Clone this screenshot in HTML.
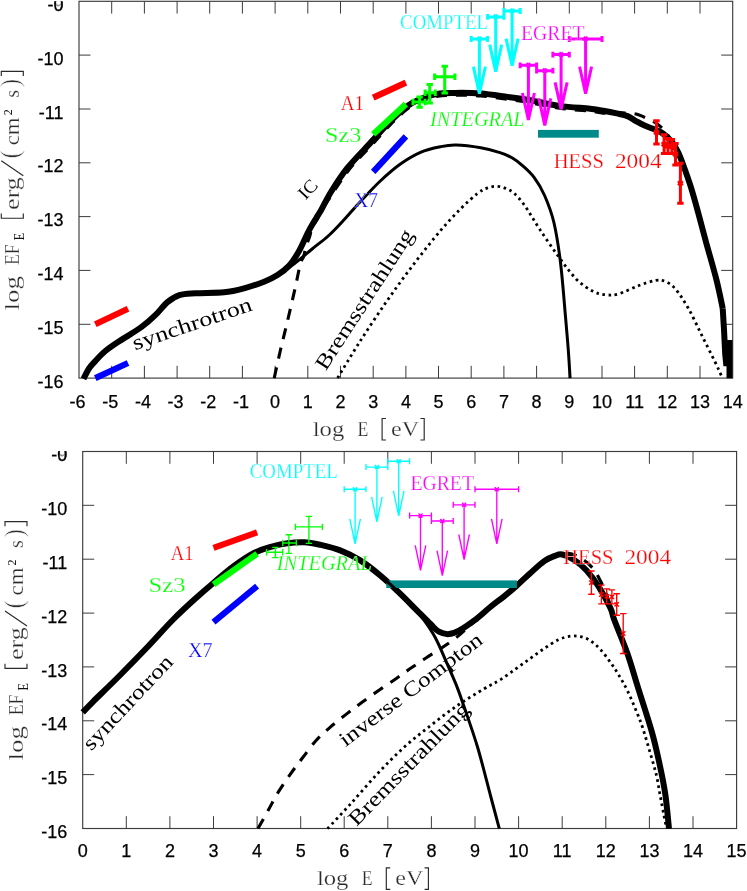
<!DOCTYPE html>
<html><head><meta charset="utf-8"><title>SED</title>
<style>
html,body{margin:0;padding:0;background:#fff;}
body{width:747px;height:891px;overflow:hidden;}
svg{display:block;will-change:transform;}
.tk{font-family:"Liberation Sans",sans-serif;font-size:18px;fill:#000;stroke:#000;stroke-width:0.25px;}
.sf{font-family:"Liberation Serif",serif;}
</style></head><body>
<svg width="747" height="891" viewBox="0 0 747 891">
<defs><clipPath id="c1"><rect x="0" y="1.3" width="78" height="30"/></clipPath><clipPath id="c2"><rect x="0" y="451.1" width="82" height="30"/></clipPath></defs>
<rect width="747" height="891" fill="#fff"/>
<rect x="79.0" y="1.3" width="653.7" height="376.8" fill="none" stroke="#3c3c3c" stroke-width="1.15"/>
<path d="M111.7,378.1v-12.3 M111.7,1.3v12.3 M144.4,378.1v-12.3 M144.4,1.3v12.3 M177.1,378.1v-12.3 M177.1,1.3v12.3 M209.7,378.1v-12.3 M209.7,1.3v12.3 M242.4,378.1v-12.3 M242.4,1.3v12.3 M275.1,378.1v-12.3 M275.1,1.3v12.3 M307.8,378.1v-12.3 M307.8,1.3v12.3 M340.5,378.1v-12.3 M340.5,1.3v12.3 M373.2,378.1v-12.3 M373.2,1.3v12.3 M405.9,378.1v-12.3 M405.9,1.3v12.3 M438.5,378.1v-12.3 M438.5,1.3v12.3 M471.2,378.1v-12.3 M471.2,1.3v12.3 M503.9,378.1v-12.3 M503.9,1.3v12.3 M536.6,378.1v-12.3 M536.6,1.3v12.3 M569.3,378.1v-12.3 M569.3,1.3v12.3 M602.0,378.1v-12.3 M602.0,1.3v12.3 M634.6,378.1v-12.3 M634.6,1.3v12.3 M667.3,378.1v-12.3 M667.3,1.3v12.3 M700.0,378.1v-12.3 M700.0,1.3v12.3 M79.0,324.3h11.5 M732.7,324.3h-11.5 M79.0,270.4h11.5 M732.7,270.4h-11.5 M79.0,216.6h11.5 M732.7,216.6h-11.5 M79.0,162.8h11.5 M732.7,162.8h-11.5 M79.0,109.0h11.5 M732.7,109.0h-11.5 M79.0,55.1h11.5 M732.7,55.1h-11.5 " stroke="#3c3c3c" stroke-width="1" fill="none"/>
<text class="tk" x="77.5" y="407.5" text-anchor="middle">-6</text>
<text class="tk" x="110.2" y="407.5" text-anchor="middle">-5</text>
<text class="tk" x="142.9" y="407.5" text-anchor="middle">-4</text>
<text class="tk" x="175.6" y="407.5" text-anchor="middle">-3</text>
<text class="tk" x="208.2" y="407.5" text-anchor="middle">-2</text>
<text class="tk" x="240.9" y="407.5" text-anchor="middle">-1</text>
<text class="tk" x="275.1" y="407.5" text-anchor="middle">0</text>
<text class="tk" x="307.8" y="407.5" text-anchor="middle">1</text>
<text class="tk" x="340.5" y="407.5" text-anchor="middle">2</text>
<text class="tk" x="373.2" y="407.5" text-anchor="middle">3</text>
<text class="tk" x="405.9" y="407.5" text-anchor="middle">4</text>
<text class="tk" x="438.5" y="407.5" text-anchor="middle">5</text>
<text class="tk" x="471.2" y="407.5" text-anchor="middle">6</text>
<text class="tk" x="503.9" y="407.5" text-anchor="middle">7</text>
<text class="tk" x="536.6" y="407.5" text-anchor="middle">8</text>
<text class="tk" x="569.3" y="407.5" text-anchor="middle">9</text>
<text class="tk" x="602.0" y="407.5" text-anchor="middle">10</text>
<text class="tk" x="634.6" y="407.5" text-anchor="middle">11</text>
<text class="tk" x="667.3" y="407.5" text-anchor="middle">12</text>
<text class="tk" x="700.0" y="407.5" text-anchor="middle">13</text>
<text class="tk" x="732.7" y="407.5" text-anchor="middle">14</text>
<text class="tk" x="63.5" y="387.7" text-anchor="end">-16</text>
<text class="tk" x="63.5" y="333.9" text-anchor="end">-15</text>
<text class="tk" x="63.5" y="280.0" text-anchor="end">-14</text>
<text class="tk" x="63.5" y="226.2" text-anchor="end">-13</text>
<text class="tk" x="63.5" y="172.4" text-anchor="end">-12</text>
<text class="tk" x="63.5" y="118.6" text-anchor="end">-11</text>
<text class="tk" x="63.5" y="64.7" text-anchor="end">-10</text>
<g clip-path="url(#c1)"><text class="tk" x="63.5" y="10.9" text-anchor="end">-0</text><text class="tk" x="63.5" y="10.9" text-anchor="end" opacity="0.45">9</text></g>
<path d="M274.2,378.1 C275.2,373.8 278.1,360.4 280.0,352.0 C281.9,343.6 283.4,338.3 285.9,327.8 C288.4,317.3 292.5,299.9 294.9,289.2 C297.3,278.5 298.9,269.4 300.3,263.9 C301.8,258.4 302.6,259.4 303.6,256.4 C304.6,253.4 305.2,248.9 306.2,245.7 C307.2,242.5 308.5,240.1 309.5,237.1 C310.5,234.1 310.8,230.5 312.1,227.5 C313.4,224.5 316.1,221.6 317.5,218.9 C318.9,216.2 319.1,214.2 320.7,211.4 C322.3,208.6 322.4,208.7 327.1,201.8 C331.8,194.9 341.6,179.2 349.0,169.8 C356.3,160.5 366.4,150.9 371.1,145.7 C375.8,140.6 374.2,142.2 377.3,138.9 C380.3,135.6 385.3,130.0 389.2,125.9 C393.2,121.8 397.8,117.3 401.1,114.3 C404.4,111.2 406.0,109.8 409.1,107.7 C412.3,105.6 415.3,103.6 420.1,101.7 C424.9,99.8 431.9,97.3 437.7,96.3 C443.6,95.2 447.9,95.4 455.0,95.3 C462.2,95.2 471.9,95.2 480.6,95.9 C489.3,96.6 499.1,98.2 507.3,99.3 C515.4,100.4 520.9,101.1 529.6,102.6 C538.3,104.1 549.6,106.9 559.7,108.3 C569.7,109.7 582.5,110.3 589.7,111.1 C597.0,111.9 598.3,112.8 603.0,113.1 C607.8,113.3 614.0,112.6 618.0,112.6 C622.0,112.6 624.0,113.0 627.0,113.3 C630.0,113.5 633.0,113.3 636.2,114.1 C639.4,114.9 643.1,116.7 646.2,118.1 C649.3,119.5 652.3,120.8 655.0,122.5 C657.7,124.2 660.1,126.0 662.3,128.2 C664.5,130.4 666.2,132.9 668.0,135.5 C669.8,138.1 673.3,143.4 673.0,143.5 C672.7,143.6 666.3,136.2 666.3,136.2 C666.3,136.2 671.0,140.7 673.0,143.5 C675.0,146.3 676.6,149.1 678.4,152.9 C680.2,156.7 681.6,160.6 683.7,166.3 C685.8,172.0 688.5,179.6 690.9,187.2 C693.3,194.8 695.5,202.9 698.0,212.0 C700.5,221.1 702.9,230.7 706.0,242.0 C709.1,253.3 713.7,268.9 716.5,280.0 C719.3,291.1 721.7,303.7 722.7,308.4" stroke="#000" stroke-width="3.1" fill="none" stroke-dasharray="11 9"/>
<path d="M264.1,281.7 C266.3,280.6 272.5,277.9 277.5,275.0 C282.5,272.1 288.1,268.3 293.9,264.0 C299.7,259.7 306.4,253.7 312.1,249.0 C317.8,244.3 322.8,240.9 328.2,236.0 C333.6,231.1 339.0,225.2 344.3,219.5 C349.6,213.8 354.0,208.4 360.0,202.0 C366.0,195.6 373.6,187.3 380.3,181.0 C387.0,174.7 393.7,168.8 400.4,164.0 C407.1,159.2 413.8,155.2 420.5,152.3 C427.2,149.4 434.7,147.9 440.6,146.7 C446.5,145.5 449.3,144.9 456.0,145.1 C462.7,145.3 473.5,146.6 480.8,147.8 C488.1,149.1 494.8,150.9 500.0,152.6 C505.2,154.3 508.2,155.6 512.0,157.8 C515.8,160.0 518.9,162.4 522.5,165.6 C526.1,168.8 530.2,172.2 533.9,177.2 C537.6,182.2 541.3,187.9 544.6,195.5 C547.9,203.1 551.3,211.5 553.9,222.5 C556.5,233.5 558.4,245.8 560.4,261.7 C562.4,277.6 564.3,303.2 565.6,317.9 C566.9,332.6 567.5,340.0 568.3,350.0 C569.0,360.0 569.8,373.4 570.1,378.1" stroke="#000" stroke-width="3.0" fill="none"/>
<path d="M337.6,378.0 C341.4,371.8 352.1,353.7 360.4,340.8 C368.7,327.9 378.3,313.4 387.2,300.6 C396.1,287.8 405.1,275.5 414.0,263.8 C422.9,252.1 432.9,239.6 440.7,230.4 C448.5,221.2 454.7,214.8 460.8,208.6 C466.9,202.4 473.1,196.9 477.5,193.5 C481.9,190.1 484.2,189.1 487.5,187.9 C490.8,186.7 493.9,186.2 497.0,186.3 C500.1,186.4 503.1,187.3 506.0,188.5 C508.9,189.7 511.1,190.6 514.3,193.5 C517.5,196.4 520.8,200.0 525.0,206.0 C529.2,212.0 534.2,221.0 539.7,229.3 C545.2,237.6 551.8,247.4 557.9,255.7 C564.0,264.0 570.3,273.0 576.1,278.9 C581.9,284.8 587.7,288.5 592.6,291.1 C597.5,293.8 601.4,294.4 605.8,294.8 C610.2,295.2 613.5,295.4 619.0,293.8 C624.5,292.2 632.8,287.7 638.9,285.5 C645.0,283.3 651.0,281.2 655.4,280.5 C659.8,279.8 662.0,280.1 665.3,281.5 C668.6,282.9 671.4,284.3 675.3,288.8 C679.2,293.3 684.1,300.9 688.5,308.6 C692.9,316.3 697.3,326.3 701.7,335.1 C706.1,343.9 711.6,354.8 714.9,361.6 C718.2,368.4 720.4,373.6 721.5,376.0" stroke="#000" stroke-width="2.8" fill="none" stroke-dasharray="2.6 3.6"/>
<path d="M83.5,378.8 C84.4,377.1 87.1,371.4 89.0,368.5 C90.9,365.6 92.4,364.3 95.1,361.4 C97.8,358.5 101.1,354.6 105.1,351.3 C109.1,348.0 113.2,345.3 119.2,341.3 C125.2,337.3 135.3,331.6 141.3,327.2 C147.3,322.8 151.0,319.4 155.3,315.2 C159.7,311.0 163.4,305.5 167.4,302.1 C171.4,298.8 174.7,296.6 179.4,295.1 C184.1,293.6 188.1,293.7 195.5,293.2 C202.9,292.7 215.9,293.1 224.0,292.3 C232.1,291.5 237.3,290.1 244.0,288.3 C250.7,286.5 258.5,283.9 264.1,281.7 C269.7,279.5 273.3,277.7 277.5,275.0 C281.7,272.3 285.6,269.5 289.2,265.6 C292.8,261.7 295.6,257.1 298.8,251.5 C302.0,245.9 305.3,237.5 308.3,231.8 C311.3,226.1 314.5,221.0 316.6,217.4 C318.8,213.8 318.8,214.2 321.2,210.0 C323.6,205.8 326.5,199.3 330.8,192.3 C335.1,185.3 340.8,176.2 347.2,168.2 C353.6,160.2 364.6,149.2 369.3,144.1 C374.0,138.9 372.5,140.6 375.5,137.3 C378.5,134.0 383.5,128.3 387.5,124.2 C391.5,120.1 396.1,115.6 399.5,112.5 C402.9,109.4 404.5,107.9 407.8,105.7 C411.1,103.5 414.3,101.5 419.2,99.5 C424.1,97.5 431.3,95.0 437.3,93.9 C443.3,92.8 447.8,93.0 455.0,92.9 C462.2,92.8 472.0,92.8 480.8,93.5 C489.6,94.2 499.4,95.8 507.6,96.9 C515.8,98.0 521.3,98.7 530.0,100.2 C538.7,101.7 550.0,104.5 560.0,105.9 C570.0,107.3 582.8,107.9 590.0,108.7 C597.2,109.5 598.9,109.9 603.4,110.7 C607.9,111.5 612.8,112.5 616.8,113.4 C620.8,114.3 624.4,114.9 627.5,116.1 C630.6,117.3 632.8,119.3 635.5,120.8 C638.2,122.3 640.6,123.8 643.5,125.1 C646.4,126.4 650.2,127.7 652.9,128.8 C655.6,129.9 657.4,130.3 659.6,131.5 C661.8,132.7 664.1,134.2 666.3,136.2 C668.5,138.2 671.0,140.7 673.0,143.5 C675.0,146.3 676.6,149.1 678.4,152.9 C680.2,156.7 681.6,160.6 683.7,166.3 C685.8,172.0 688.5,179.6 690.9,187.2 C693.3,194.8 695.5,202.9 698.0,212.0 C700.5,221.1 702.9,230.7 706.0,242.0 C709.1,253.3 713.7,268.9 716.5,280.0 C719.3,291.1 721.7,303.7 722.7,308.4" stroke="#000" stroke-width="6.0" fill="none" stroke-linejoin="round"/>
<path d="M722.7,308.4 L724.0,329.4 L725.2,354.0 L726.4,366.0 L729.5,340.0 L729.5,378.3" stroke="#000" stroke-width="6.0" fill="none" stroke-linejoin="miter"/>
<line x1="95.3" y1="324.3" x2="128.0" y2="308.7" stroke="#ff0000" stroke-width="6.2"/>
<line x1="95.3" y1="378.1" x2="128.0" y2="363.0" stroke="#0000ff" stroke-width="6.2"/>
<line x1="373.2" y1="97.6" x2="405.9" y2="82.6" stroke="#ff0000" stroke-width="6.2"/>
<line x1="373.2" y1="134.3" x2="405.9" y2="104.1" stroke="#00ff00" stroke-width="6.2"/>
<line x1="373.2" y1="171.9" x2="405.9" y2="136.4" stroke="#0000ff" stroke-width="6.2"/>
<rect x="538" y="129.9" width="60.8" height="7.8" fill="#008b8b"/>
<path d="M413.0,102.0H425.1 M419.6,107.3V97.1 M413.0,98.8v6.4 M425.1,98.8v6.4 M416.4,107.3h6.4 M416.4,97.1h6.4 M425.1,92.8H435.3 M429.7,103.0V84.5 M425.1,89.6v6.4 M435.3,89.6v6.4 M426.5,103.0h6.4 M426.5,84.5h6.4 M434.6,76.7H454.9 M444.7,93.1V66.2 M434.6,73.5v6.4 M454.9,73.5v6.4 M441.5,93.1h6.4 M441.5,66.2h6.4 " stroke="#00ff00" stroke-width="3" fill="none"/>
<path d="M471.2,39.0H487.6 M471.2,36.1v5.8 M487.6,36.1v5.8 M479.4,39.0V93.7 M473.4,66.7L479.4,93.7L485.4,66.7 M477.4,37.0l4,4 M481.4,37.0l-4,4 M487.6,16.9H503.9 M487.6,14.0v5.8 M503.9,14.0v5.8 M495.7,16.9V71.6 M489.7,44.6L495.7,71.6L501.7,44.6 M493.7,14.9l4,4 M497.7,14.9l-4,4 M503.9,11.0H520.2 M503.9,8.1v5.8 M520.2,8.1v5.8 M512.1,11.0V65.7 M506.1,38.7L512.1,65.7L518.1,38.7 M510.1,9.0l4,4 M514.1,9.0l-4,4 " stroke="#00ffff" stroke-width="3" fill="none" stroke-linejoin="miter"/>
<path d="M520.2,65.3H536.6 M520.2,62.4v5.8 M536.6,62.4v5.8 M528.4,65.3V120.0 M522.4,93.0L528.4,120.0L534.4,93.0 M526.4,63.3l4,4 M530.4,63.3l-4,4 M536.6,70.7H552.9 M536.6,67.8v5.8 M552.9,67.8v5.8 M544.8,70.7V125.4 M538.8,98.4L544.8,125.4L550.8,98.4 M542.8,68.7l4,4 M546.8,68.7l-4,4 M552.9,54.6H569.3 M552.9,51.7v5.8 M569.3,51.7v5.8 M561.1,54.6V109.3 M555.1,82.3L561.1,109.3L567.1,82.3 M559.1,52.6l4,4 M563.1,52.6l-4,4 M569.3,39.0H602.0 M569.3,36.1v5.8 M602.0,36.1v5.8 M585.6,39.0V93.7 M579.6,66.7L585.6,93.7L591.6,66.7 M583.6,37.0l4,4 M587.6,37.0l-4,4 " stroke="#ff00ff" stroke-width="3" fill="none" stroke-linejoin="miter"/>
<path d="M656.5,143.9V120.8 M653.3,143.9h6.4 M653.3,120.8h6.4 M654.3,130.2l4.4,4.4 M658.7,130.2l-4.4,4.4 M664.1,153.6V134.8 M660.9,153.6h6.4 M660.9,134.8h6.4 M661.9,142.0l4.4,4.4 M666.3,142.0l-4.4,4.4 M668.0,153.6V138.6 M664.8,153.6h6.4 M664.8,138.6h6.4 M665.8,143.9l4.4,4.4 M670.2,143.9l-4.4,4.4 M671.9,153.6V139.6 M668.7,153.6h6.4 M668.7,139.6h6.4 M669.7,144.4l4.4,4.4 M674.1,144.4l-4.4,4.4 M675.5,164.9V143.4 M672.3,164.9h6.4 M672.3,143.4h6.4 M673.3,152.0l4.4,4.4 M677.7,152.0l-4.4,4.4 M680.4,203.2V163.3 M677.2,203.2h6.4 M677.2,163.3h6.4 M678.2,181.0l4.4,4.4 M682.6,181.0l-4.4,4.4 " stroke="#ff0000" stroke-width="3" fill="none"/>
<text class="sf" x="340.8" y="109.6" font-size="21.3" fill="#ff0000" stroke="#fff" stroke-width="0.25" textLength="23.2" lengthAdjust="spacingAndGlyphs" >A1</text>
<text class="sf" x="325.0" y="141.7" font-size="21.3" fill="#00ff00" stroke="#fff" stroke-width="0.25" textLength="36.4" lengthAdjust="spacingAndGlyphs" >Sz3</text>
<text class="sf" x="354.3" y="206.5" font-size="21.3" fill="#0000ff" stroke="#fff" stroke-width="0.25" textLength="23.6" lengthAdjust="spacingAndGlyphs" >X7</text>
<text class="sf" x="400.1" y="28.5" font-size="21.3" fill="#00ffff" stroke="#fff" stroke-width="0.25" textLength="87.9" lengthAdjust="spacingAndGlyphs" >COMPTEL</text>
<text class="sf" x="521.0" y="39.5" font-size="21.3" fill="#ff00ff" stroke="#fff" stroke-width="0.25" textLength="63.6" lengthAdjust="spacingAndGlyphs" >EGRET</text>
<text class="sf" x="430.0" y="125.7" font-size="21" fill="#00ff00" stroke="#fff" stroke-width="0.25" textLength="94.6" lengthAdjust="spacingAndGlyphs" font-style="italic">INTEGRAL</text>
<text class="sf" x="553.7" y="168.4" font-size="21.3" fill="#ff0000" stroke="#fff" stroke-width="0.25" textLength="50.2" lengthAdjust="spacingAndGlyphs" >HESS</text>
<text class="sf" x="614.9" y="168.4" font-size="21.3" fill="#ff0000" stroke="#fff" stroke-width="0.25" textLength="46.7" lengthAdjust="spacingAndGlyphs" >2004</text>
<text class="sf" x="0" y="0" transform="translate(135.1,350.2) rotate(-18.7)" font-size="21" fill="#000" stroke="#fff" stroke-width="0.25" textLength="125.0" lengthAdjust="spacingAndGlyphs"  stroke-opacity="0">synchrotron</text>
<text class="sf" x="0" y="0" transform="translate(325.8,371.5) rotate(-57.0)" font-size="21" fill="#000" stroke="#fff" stroke-width="0.25" textLength="163.0" lengthAdjust="spacingAndGlyphs"  stroke-opacity="0">Bremsstrahlung</text>
<text class="sf" x="0" y="0" transform="translate(305.6,200.6) rotate(-46.8)" font-size="18.5" fill="#000" stroke="#fff" stroke-width="0.25" textLength="19.5" lengthAdjust="spacingAndGlyphs"  stroke-opacity="0">IC</text>
<g transform="translate(18.9,310.8) rotate(-90)" fill="#2a2a2a" stroke="#fff" stroke-width="0.25">
<text class="sf" x="0.4" y="0.0" font-size="20.5" textLength="34.5" lengthAdjust="spacingAndGlyphs">log</text>
<text class="sf" x="45.7" y="0.0" font-size="20.5" textLength="20.9" lengthAdjust="spacingAndGlyphs">EF</text>
<text class="sf" x="70.6" y="5.5" font-size="14" textLength="7.4" lengthAdjust="spacingAndGlyphs" stroke="none" fill="#111">E</text>
<text class="sf" x="100.9" y="0.0" font-size="20.5" textLength="32.8" lengthAdjust="spacingAndGlyphs">erg</text>
<text class="sf" x="152.4" y="0" font-size="26.5" stroke="#fff" stroke-width="0.7" textLength="8.4" lengthAdjust="spacingAndGlyphs">(</text>
<text class="sf" x="165.5" y="0.0" font-size="20.5" textLength="27.9" lengthAdjust="spacingAndGlyphs">cm</text>
<text class="sf" x="195.6" y="-7.1" font-size="13.5" textLength="6.0" lengthAdjust="spacingAndGlyphs" stroke="none" fill="#111">2</text>
<text class="sf" x="213.1" y="0.0" font-size="20.5" textLength="7.8" lengthAdjust="spacingAndGlyphs">s</text>
<text class="sf" x="223.6" y="0" font-size="26.5" stroke="#fff" stroke-width="0.7" textLength="8.4" lengthAdjust="spacingAndGlyphs">)</text>
<path d="M97.2,-17.6H92.6V4.4H97.2 M234.8,-17.6H239.4V4.4H234.8 M135,4.4L150,-17.6" fill="none" stroke="#2a2a2a" stroke-width="1.15"/>
</g>
<g fill="#2a2a2a" stroke="#fff" stroke-width="0.25">
<text class="sf" x="312.7" y="435.7" font-size="21" textLength="31.6" lengthAdjust="spacingAndGlyphs">log</text>
<text class="sf" x="357.6" y="435.7" font-size="21" textLength="10.8" lengthAdjust="spacingAndGlyphs">E</text>
<text class="sf" x="391.1" y="435.7" font-size="21" textLength="28.1" lengthAdjust="spacingAndGlyphs">eV</text>
<path transform="translate(312.7,435.7)" d="M73.3,-17.2H69.4V4.3H73.3 M107.7,-17.2H111.5V4.3H107.7" fill="none" stroke="#2a2a2a" stroke-width="1.15"/>
</g>
<rect x="82.7" y="451.5" width="653.9" height="377.0" fill="none" stroke="#3c3c3c" stroke-width="1.15"/>
<path d="M126.3,828.5v-12.3 M126.3,451.5v12.3 M169.9,828.5v-12.3 M169.9,451.5v12.3 M213.5,828.5v-12.3 M213.5,451.5v12.3 M257.1,828.5v-12.3 M257.1,451.5v12.3 M300.7,828.5v-12.3 M300.7,451.5v12.3 M344.2,828.5v-12.3 M344.2,451.5v12.3 M387.8,828.5v-12.3 M387.8,451.5v12.3 M431.4,828.5v-12.3 M431.4,451.5v12.3 M475.0,828.5v-12.3 M475.0,451.5v12.3 M518.6,828.5v-12.3 M518.6,451.5v12.3 M562.2,828.5v-12.3 M562.2,451.5v12.3 M605.8,828.5v-12.3 M605.8,451.5v12.3 M649.4,828.5v-12.3 M649.4,451.5v12.3 M693.0,828.5v-12.3 M693.0,451.5v12.3 M82.7,774.6h11.5 M736.6,774.6h-11.5 M82.7,720.8h11.5 M736.6,720.8h-11.5 M82.7,666.9h11.5 M736.6,666.9h-11.5 M82.7,613.1h11.5 M736.6,613.1h-11.5 M82.7,559.2h11.5 M736.6,559.2h-11.5 M82.7,505.3h11.5 M736.6,505.3h-11.5 " stroke="#3c3c3c" stroke-width="1" fill="none"/>
<text class="tk" x="82.7" y="857.0" text-anchor="middle">0</text>
<text class="tk" x="126.3" y="857.0" text-anchor="middle">1</text>
<text class="tk" x="169.9" y="857.0" text-anchor="middle">2</text>
<text class="tk" x="213.5" y="857.0" text-anchor="middle">3</text>
<text class="tk" x="257.1" y="857.0" text-anchor="middle">4</text>
<text class="tk" x="300.7" y="857.0" text-anchor="middle">5</text>
<text class="tk" x="344.2" y="857.0" text-anchor="middle">6</text>
<text class="tk" x="387.8" y="857.0" text-anchor="middle">7</text>
<text class="tk" x="431.4" y="857.0" text-anchor="middle">8</text>
<text class="tk" x="475.0" y="857.0" text-anchor="middle">9</text>
<text class="tk" x="518.6" y="857.0" text-anchor="middle">10</text>
<text class="tk" x="562.2" y="857.0" text-anchor="middle">11</text>
<text class="tk" x="605.8" y="857.0" text-anchor="middle">12</text>
<text class="tk" x="649.4" y="857.0" text-anchor="middle">13</text>
<text class="tk" x="693.0" y="857.0" text-anchor="middle">14</text>
<text class="tk" x="736.6" y="857.0" text-anchor="middle">15</text>
<text class="tk" x="67.2" y="838.1" text-anchor="end">-16</text>
<text class="tk" x="67.2" y="784.2" text-anchor="end">-15</text>
<text class="tk" x="67.2" y="730.4" text-anchor="end">-14</text>
<text class="tk" x="67.2" y="676.5" text-anchor="end">-13</text>
<text class="tk" x="67.2" y="622.7" text-anchor="end">-12</text>
<text class="tk" x="67.2" y="568.8" text-anchor="end">-11</text>
<text class="tk" x="67.2" y="514.9" text-anchor="end">-10</text>
<g clip-path="url(#c2)"><text class="tk" x="67.2" y="461.1" text-anchor="end">-0</text><text class="tk" x="67.2" y="461.1" text-anchor="end" opacity="0.45">9</text></g>
<path d="M258.0,828.6 C259.7,825.6 264.8,816.5 268.1,810.5 C271.5,804.5 274.4,798.4 278.1,792.4 C281.8,786.4 286.2,780.1 290.2,774.4 C294.2,768.7 297.8,764.0 302.2,758.3 C306.6,752.6 311.6,745.4 316.3,740.2 C321.0,735.0 325.3,731.6 330.3,727.2 C335.3,722.9 341.0,718.3 346.4,714.1 C351.8,709.9 356.8,706.1 362.4,702.0 C368.0,697.9 374.2,693.5 380.0,689.5 C385.8,685.5 391.8,681.6 397.0,678.0 C402.2,674.4 406.4,671.2 411.4,667.8 C416.3,664.4 421.5,660.9 426.7,657.5 C431.9,654.1 437.5,650.9 442.7,647.3 C447.9,643.7 452.8,640.3 458.0,636.1 C463.2,631.9 468.7,626.6 474.0,622.0 C479.3,617.4 485.0,612.4 490.0,608.3 C495.0,604.2 499.8,600.8 504.1,597.3 C508.5,593.8 511.8,591.1 516.1,587.2 C520.5,583.3 525.5,578.3 530.2,574.0 C534.9,569.7 540.2,564.6 544.2,561.5 C548.2,558.4 551.1,557.1 554.3,555.6 C557.5,554.1 560.5,553.1 563.5,552.8 C566.5,552.5 569.2,553.2 572.0,554.0 C574.8,554.8 577.5,556.1 580.0,557.5 C582.5,558.9 584.6,560.4 587.0,562.5 C589.4,564.6 592.2,567.3 594.4,570.2 C596.6,573.1 598.2,576.5 600.0,580.0 C601.8,583.5 603.1,586.3 605.0,591.0 C606.9,595.7 609.9,603.5 611.5,608.3 C613.1,613.1 612.1,612.5 614.8,620.0 C617.4,627.5 623.6,642.4 627.4,653.5 C631.2,664.6 633.8,673.9 637.8,686.9 C641.8,699.9 648.1,718.7 651.7,731.4 C655.3,744.1 657.0,752.4 659.3,762.9 C661.6,773.4 663.7,783.3 665.3,794.3 C666.9,805.3 668.4,823.0 669.0,828.8" stroke="#000" stroke-width="3.1" fill="none" stroke-dasharray="11 9"/>
<path d="M327.6,828.6 C331.4,824.5 342.1,813.2 350.4,804.1 C358.7,795.0 368.3,783.5 377.2,774.0 C386.1,764.5 395.1,755.4 404.0,747.3 C412.9,739.2 421.8,732.5 430.7,725.5 C439.6,718.5 448.6,711.5 457.5,705.4 C466.4,699.3 477.2,692.9 484.3,688.7 C491.4,684.5 494.7,683.4 500.0,680.0 C505.3,676.6 511.1,672.2 516.1,668.6 C521.1,665.0 525.5,661.9 530.2,658.5 C534.9,655.1 539.5,651.6 544.2,648.5 C548.9,645.4 553.9,641.8 558.3,639.8 C562.6,637.8 566.6,636.7 570.3,636.2 C574.0,635.7 577.0,635.9 580.4,636.6 C583.8,637.3 587.1,638.5 590.4,640.6 C593.7,642.8 597.0,645.9 600.4,649.5 C603.8,653.1 607.5,658.3 610.5,662.5 C613.5,666.7 615.7,669.9 618.5,674.6 C621.3,679.3 624.3,684.2 627.5,690.8 C630.7,697.4 635.1,708.1 637.6,714.2 C640.1,720.3 640.5,721.2 642.6,727.6 C644.7,734.0 647.8,744.7 650.1,752.6 C652.4,760.5 654.7,768.1 656.4,775.2 C658.1,782.3 658.9,788.5 660.1,795.2 C661.4,801.9 662.8,809.7 663.9,815.2 C665.0,820.7 666.1,825.9 666.5,828.0" stroke="#000" stroke-width="2.8" fill="none" stroke-dasharray="2.6 3.6"/>
<path d="M82.7,712.4 C84.5,710.5 87.2,707.5 93.4,701.3 C99.7,695.1 111.3,684.0 120.2,675.0 C129.1,666.0 138.1,656.8 147.0,647.5 C155.9,638.2 165.3,627.4 173.7,619.0 C182.1,610.6 190.5,603.1 197.2,597.0 C203.9,590.9 207.8,587.7 213.9,582.5 C220.0,577.3 227.3,570.9 234.0,566.0 C240.7,561.1 248.0,556.2 254.1,553.0 C260.2,549.8 265.2,548.4 270.8,546.8 C276.4,545.2 281.9,544.0 287.5,543.3 C293.1,542.5 298.9,542.1 304.3,542.3 C309.7,542.5 314.0,543.4 320.0,544.7 C326.0,546.1 333.5,547.8 340.2,550.4 C346.9,553.0 353.5,556.2 360.2,560.4 C366.9,564.6 373.6,569.9 380.3,575.5 C387.0,581.1 394.3,588.0 400.4,593.9 C406.5,599.8 412.1,605.6 417.1,610.6 C422.1,615.6 426.9,620.5 430.5,624.0 C434.1,627.5 435.8,630.0 438.9,631.7 C442.0,633.4 445.5,634.3 448.9,634.1 C452.2,633.9 454.8,632.9 459.0,630.7 C463.2,628.5 468.8,624.6 474.0,620.7 C479.2,616.8 485.0,611.4 490.0,607.3 C495.0,603.2 499.8,599.8 504.1,596.3 C508.5,592.8 511.8,590.1 516.1,586.2 C520.5,582.4 525.5,577.4 530.2,573.2 C534.9,569.0 540.2,564.0 544.2,561.1 C548.2,558.2 551.3,557.2 554.3,556.1 C557.3,555.0 559.0,553.8 562.3,554.5 C565.6,555.2 570.3,557.5 574.3,560.1 C578.3,562.7 582.4,565.9 586.4,570.2 C590.4,574.6 594.4,579.9 598.4,586.2 C602.4,592.6 607.9,602.7 610.5,608.3 C613.1,613.9 611.5,612.5 614.3,620.0 C617.1,627.5 623.5,642.4 627.4,653.5 C631.3,664.6 633.8,673.9 637.8,686.9 C641.8,699.9 648.1,718.7 651.7,731.4 C655.3,744.1 657.0,752.4 659.3,762.9 C661.6,773.4 663.7,783.3 665.3,794.3 C666.9,805.3 668.4,823.0 669.0,828.8" stroke="#000" stroke-width="6.0" fill="none" stroke-linejoin="round"/>
<line x1="213.5" y1="547.9" x2="257.1" y2="532.3" stroke="#ff0000" stroke-width="6.2"/>
<line x1="213.5" y1="584.5" x2="257.1" y2="553.8" stroke="#00ff00" stroke-width="6.2"/>
<line x1="213.5" y1="622.2" x2="257.1" y2="586.1" stroke="#0000ff" stroke-width="6.2"/>
<rect x="386.3" y="580.4" width="130.6" height="7.6" fill="#008b8b"/>
<path d="M320.0,544.7 C323.4,545.7 333.5,547.8 340.2,550.4 C346.9,553.0 353.5,556.2 360.2,560.4 C366.9,564.6 373.6,569.9 380.3,575.5 C387.0,581.1 394.9,588.6 400.4,593.9 C405.8,599.1 409.1,602.6 413.0,607.0 C416.9,611.4 420.2,614.9 424.0,620.1 C427.8,625.3 431.6,630.6 435.5,638.0 C439.4,645.4 443.7,655.9 447.3,664.2 C450.9,672.5 454.5,680.5 457.3,687.6 C460.1,694.8 460.8,697.2 464.2,707.1 C467.6,717.0 473.1,732.2 477.6,747.3 C482.1,762.4 487.4,784.0 491.0,797.5 C494.6,811.0 497.9,823.4 499.3,828.6" stroke="#000" stroke-width="3.0" fill="none"/>
<path d="M266.6,552.2H282.8 M275.4,557.6V547.4 M266.6,549.0v6.4 M282.8,549.0v6.4 M272.2,557.6h6.4 M272.2,547.4h6.4 M282.8,543.0H296.3 M288.9,553.3V534.7 M282.8,539.8v6.4 M296.3,539.8v6.4 M285.7,553.3h6.4 M285.7,534.7h6.4 M295.4,526.9H322.4 M308.9,543.3V516.4 M295.4,523.7v6.4 M322.4,523.7v6.4 M305.7,543.3h6.4 M305.7,516.4h6.4 " stroke="#00ff00" stroke-width="1.35" fill="none"/>
<path d="M344.2,489.2H366.0 M344.2,486.2v6.0 M366.0,486.2v6.0 M355.1,489.2V543.9 M349.8,518.9L355.1,543.9L360.4,518.9 M353.1,487.2l4,4 M357.1,487.2l-4,4 M366.0,467.1H387.8 M366.0,464.1v6.0 M387.8,464.1v6.0 M376.9,467.1V521.8 M371.6,496.8L376.9,521.8L382.2,496.8 M374.9,465.1l4,4 M378.9,465.1l-4,4 M387.8,461.2H409.6 M387.8,458.2v6.0 M409.6,458.2v6.0 M398.7,461.2V515.9 M393.4,490.9L398.7,515.9L404.0,490.9 M396.7,459.2l4,4 M400.7,459.2l-4,4 " stroke="#00ffff" stroke-width="1.35" fill="none" stroke-linejoin="miter"/>
<path d="M409.6,515.6H431.4 M409.6,512.6v6.0 M431.4,512.6v6.0 M420.5,515.6V570.3 M415.2,545.3L420.5,570.3L425.8,545.3 M418.5,513.6l4,4 M422.5,513.6l-4,4 M431.4,521.0H453.2 M431.4,518.0v6.0 M453.2,518.0v6.0 M442.3,521.0V575.7 M437.0,550.7L442.3,575.7L447.6,550.7 M440.3,519.0l4,4 M444.3,519.0l-4,4 M453.2,504.8H475.0 M453.2,501.8v6.0 M475.0,501.8v6.0 M464.1,504.8V559.5 M458.8,534.5L464.1,559.5L469.4,534.5 M462.1,502.8l4,4 M466.1,502.8l-4,4 M475.0,489.2H518.6 M475.0,486.2v6.0 M518.6,486.2v6.0 M496.8,489.2V543.9 M491.5,518.9L496.8,543.9L502.1,518.9 M494.8,487.2l4,4 M498.8,487.2l-4,4 " stroke="#ff00ff" stroke-width="1.35" fill="none" stroke-linejoin="miter"/>
<path d="M591.4,594.2V571.0 M588.2,594.2h6.4 M588.2,571.0h6.4 M589.2,580.4l4.4,4.4 M593.6,580.4l-4.4,4.4 M601.4,603.9V585.1 M598.2,603.9h6.4 M598.2,585.1h6.4 M599.2,592.3l4.4,4.4 M603.6,592.3l-4.4,4.4 M606.7,603.9V588.8 M603.5,603.9h6.4 M603.5,588.8h6.4 M604.5,594.2l4.4,4.4 M608.9,594.2l-4.4,4.4 M611.9,603.9V589.9 M608.7,603.9h6.4 M608.7,589.9h6.4 M609.7,594.7l4.4,4.4 M614.1,594.7l-4.4,4.4 M616.7,615.2V593.7 M613.5,615.2h6.4 M613.5,593.7h6.4 M614.5,602.2l4.4,4.4 M618.9,602.2l-4.4,4.4 M623.2,653.5V613.6 M620.0,653.5h6.4 M620.0,613.6h6.4 M621.0,631.3l4.4,4.4 M625.4,631.3l-4.4,4.4 " stroke="#ff0000" stroke-width="1.35" fill="none"/>
<text class="sf" x="170.7" y="559.9" font-size="21.3" fill="#ff0000" stroke="#fff" stroke-width="0.25" textLength="22.8" lengthAdjust="spacingAndGlyphs" >A1</text>
<text class="sf" x="148.6" y="591.6" font-size="21.3" fill="#00ff00" stroke="#fff" stroke-width="0.25" textLength="37.0" lengthAdjust="spacingAndGlyphs" >Sz3</text>
<text class="sf" x="188.0" y="656.5" font-size="21.3" fill="#0000ff" stroke="#fff" stroke-width="0.25" textLength="24.6" lengthAdjust="spacingAndGlyphs" >X7</text>
<text class="sf" x="249.7" y="478.4" font-size="21.3" fill="#00ffff" stroke="#fff" stroke-width="0.25" textLength="88.1" lengthAdjust="spacingAndGlyphs" >COMPTEL</text>
<text class="sf" x="410.4" y="490.2" font-size="21.3" fill="#ff00ff" stroke="#fff" stroke-width="0.25" textLength="63.6" lengthAdjust="spacingAndGlyphs" >EGRET</text>
<text class="sf" x="276.8" y="570.1" font-size="21" fill="#00ff00" stroke="#fff" stroke-width="0.25" textLength="95.0" lengthAdjust="spacingAndGlyphs" font-style="italic">INTEGRAL</text>
<text class="sf" x="563.3" y="564.4" font-size="21.3" fill="#ff0000" stroke="#fff" stroke-width="0.25" textLength="50.2" lengthAdjust="spacingAndGlyphs" >HESS</text>
<text class="sf" x="624.4" y="564.4" font-size="21.3" fill="#ff0000" stroke="#fff" stroke-width="0.25" textLength="46.7" lengthAdjust="spacingAndGlyphs" >2004</text>
<text class="sf" x="0" y="0" transform="translate(91.2,751.6) rotate(-46.9)" font-size="21" fill="#000" stroke="#fff" stroke-width="0.25" textLength="121.5" lengthAdjust="spacingAndGlyphs"  stroke-opacity="0">synchrotron</text>
<text class="sf" x="0" y="0" transform="translate(345.4,747.3) rotate(-37.0)" font-size="21" fill="#000" stroke="#fff" stroke-width="0.25" textLength="173.8" lengthAdjust="spacingAndGlyphs"  stroke-opacity="0">inverse Compton</text>
<text class="sf" x="0" y="0" transform="translate(356.4,826.9) rotate(-45.5)" font-size="21" fill="#000" stroke="#fff" stroke-width="0.25" textLength="163.0" lengthAdjust="spacingAndGlyphs"  stroke-opacity="0">Bremsstrahlung</text>
<g transform="translate(22.6,761.0) rotate(-90)" fill="#2a2a2a" stroke="#fff" stroke-width="0.25">
<text class="sf" x="0.4" y="0.0" font-size="20.5" textLength="34.5" lengthAdjust="spacingAndGlyphs">log</text>
<text class="sf" x="45.7" y="0.0" font-size="20.5" textLength="20.9" lengthAdjust="spacingAndGlyphs">EF</text>
<text class="sf" x="70.6" y="5.5" font-size="14" textLength="7.4" lengthAdjust="spacingAndGlyphs" stroke="none" fill="#111">E</text>
<text class="sf" x="100.9" y="0.0" font-size="20.5" textLength="32.8" lengthAdjust="spacingAndGlyphs">erg</text>
<text class="sf" x="152.4" y="0" font-size="26.5" stroke="#fff" stroke-width="0.7" textLength="8.4" lengthAdjust="spacingAndGlyphs">(</text>
<text class="sf" x="165.5" y="0.0" font-size="20.5" textLength="27.9" lengthAdjust="spacingAndGlyphs">cm</text>
<text class="sf" x="195.6" y="-7.1" font-size="13.5" textLength="6.0" lengthAdjust="spacingAndGlyphs" stroke="none" fill="#111">2</text>
<text class="sf" x="213.1" y="0.0" font-size="20.5" textLength="7.8" lengthAdjust="spacingAndGlyphs">s</text>
<text class="sf" x="223.6" y="0" font-size="26.5" stroke="#fff" stroke-width="0.7" textLength="8.4" lengthAdjust="spacingAndGlyphs">)</text>
<path d="M97.2,-17.6H92.6V4.4H97.2 M234.8,-17.6H239.4V4.4H234.8 M135,4.4L150,-17.6" fill="none" stroke="#2a2a2a" stroke-width="1.15"/>
</g>
<g fill="#2a2a2a" stroke="#fff" stroke-width="0.25">
<text class="sf" x="316.9" y="885.0" font-size="21" textLength="31.6" lengthAdjust="spacingAndGlyphs">log</text>
<text class="sf" x="361.8" y="885.0" font-size="21" textLength="10.8" lengthAdjust="spacingAndGlyphs">E</text>
<text class="sf" x="395.3" y="885.0" font-size="21" textLength="28.1" lengthAdjust="spacingAndGlyphs">eV</text>
<path transform="translate(316.9,885.0)" d="M73.3,-17.2H69.4V4.3H73.3 M107.7,-17.2H111.5V4.3H107.7" fill="none" stroke="#2a2a2a" stroke-width="1.15"/>
</g>
</svg>
</body></html>
